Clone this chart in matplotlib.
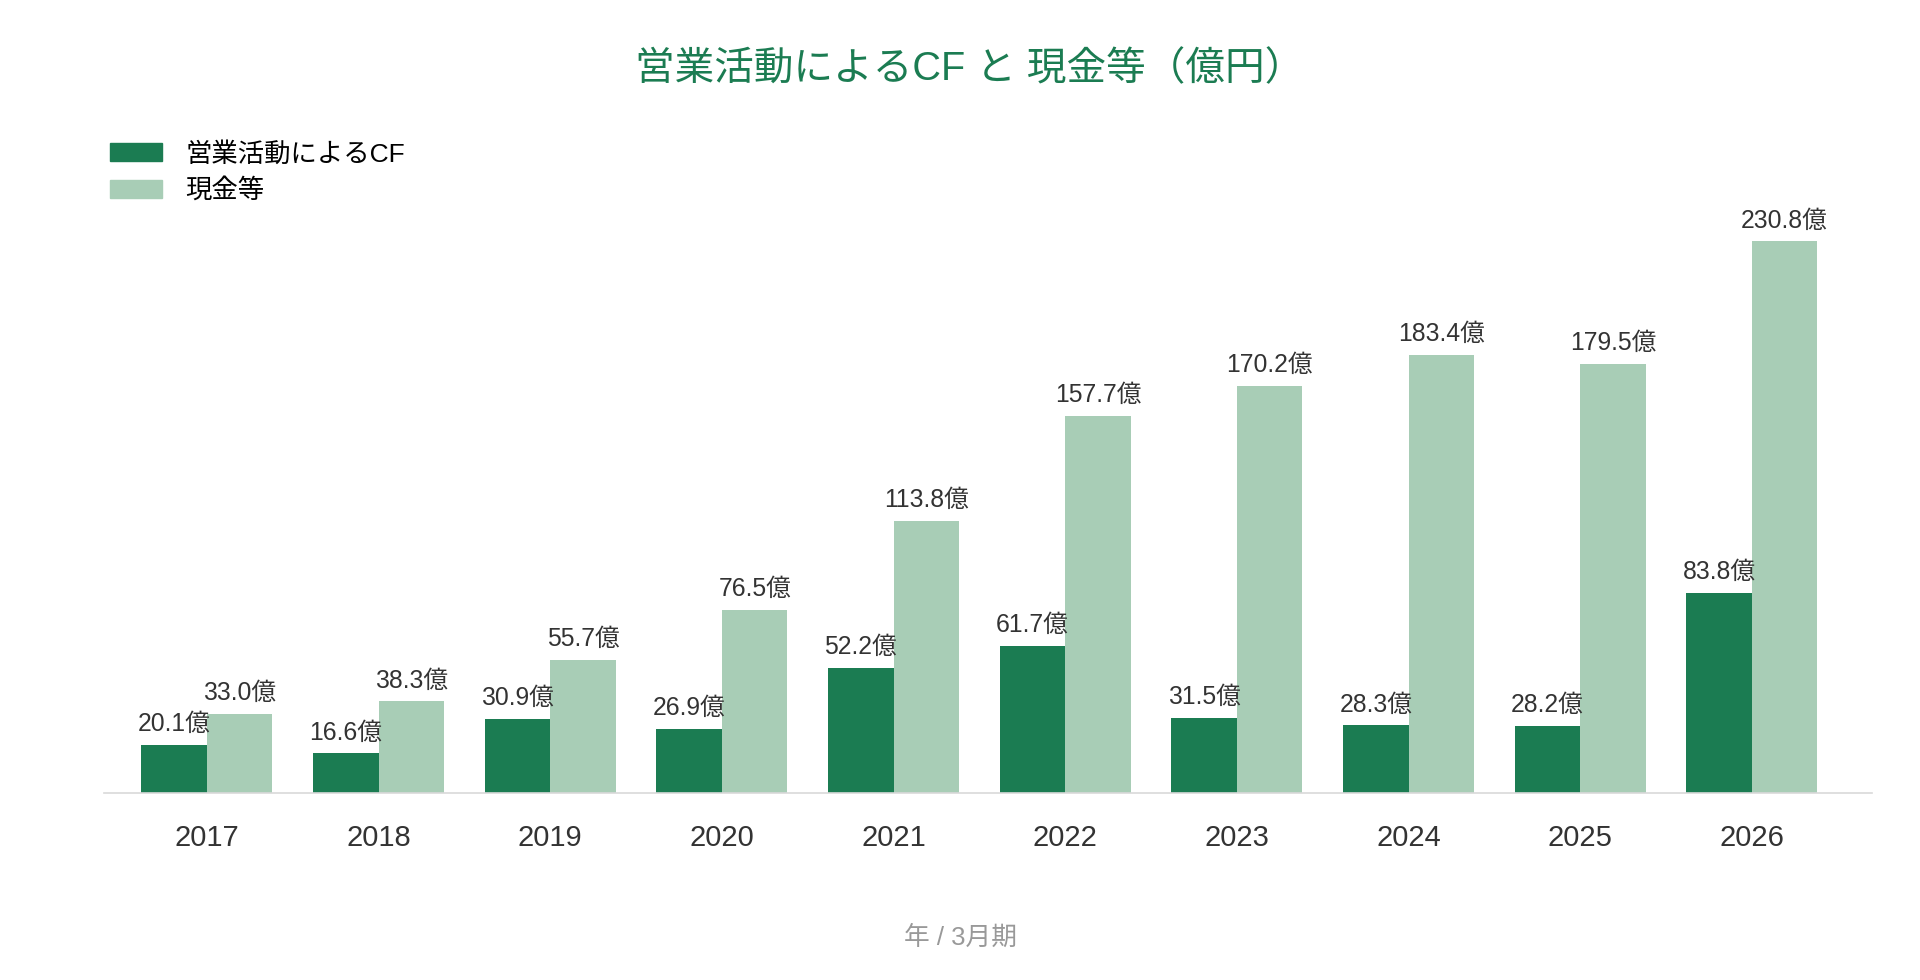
import numpy as np
import matplotlib
matplotlib.use('Agg')
import matplotlib.pyplot as plt
from matplotlib.patches import Patch

plt.rcParams['font.family'] = ['Liberation Sans', 'Noto Sans CJK JP']

# データ（億円）
years = ['2017', '2018', '2019', '2020', '2021', '2022', '2023', '2024', '2025', '2026']
cf = [20.1, 16.6, 30.9, 26.9, 52.2, 61.7, 31.5, 28.3, 28.2, 83.8]
cash = [33.0, 38.3, 55.7, 76.5, 113.8, 157.7, 170.2, 183.4, 179.5, 230.8]
series_names = ['営業活動によるCF', '現金等']

c_dark = '#1b7c52'
c_light = '#a8cdb6'
c_text = '#333333'

fig = plt.figure(figsize=(19.2, 9.8), dpi=100)
# 軸の位置（ピクセルから換算）
ax = fig.add_axes([104 / 1920, 1 - 793 / 980, (1872 - 104) / 1920, 598 / 980])

x = np.arange(len(years))
w = 0.3816
b1 = ax.bar(x - w / 2, cf, w, color=c_dark)
b2 = ax.bar(x + w / 2, cash, w, color=c_light)

for bars, vals in ((b1, cf), (b2, cash)):
    for r, v in zip(bars, vals):
        ax.annotate('%.1f億' % v, (r.get_x() + r.get_width() / 2, v),
                    xytext=(0, 10), textcoords='offset points',
                    ha='center', va='baseline', fontsize=17.8, color=c_text)

ax.set_xlim(-0.6, 9.7)
ax.set_ylim(0, 598 / 2.39)
ax.set_xticks(x)
ax.set_xticklabels(years, fontsize=21, color=c_text)
ax.tick_params(axis='x', length=0, pad=22)
ax.set_yticks([])
for s in ['top', 'right', 'left']:
    ax.spines[s].set_visible(False)
ax.spines['bottom'].set_color('#d9d9d9')
ax.spines['bottom'].set_linewidth(1.2)

# タイトル
fig.text(970 / 1920, 1 - 69 / 980, '営業活動によるCF と 現金等（億円）',
         ha='center', va='center', fontsize=28.5, color=c_dark)

# 凡例
handles = [Patch(color=c_dark), Patch(color=c_light)]
fig.legend(handles, series_names, loc='upper left', bbox_to_anchor=(99 / 1920, 1 - 131 / 980),
           frameon=False, fontsize=19, handlelength=2.0, handleheight=0.68,
           handletextpad=0.87, labelspacing=0.45, borderaxespad=0)

# x軸ラベル
fig.text(960 / 1920, 1 - 938 / 980, '年 / 3月期', ha='center', va='center',
         fontsize=18.5, color='#999999')

fig.savefig('out.png', dpi=100, facecolor='white')
